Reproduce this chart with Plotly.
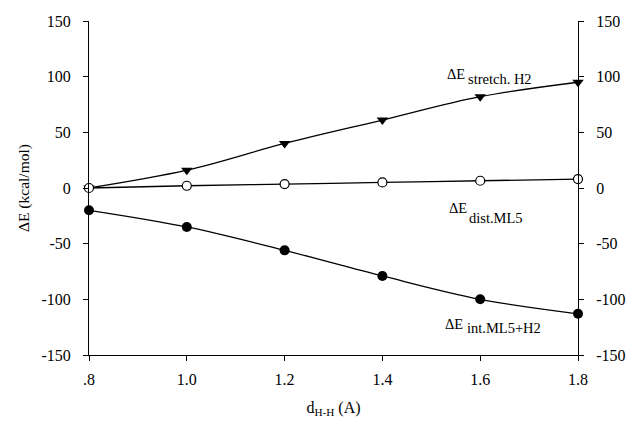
import plotly.graph_objects as go

d_hh = [0.8, 1.0, 1.2, 1.4, 1.6, 1.8]
e_stretch_h2 = [0, 16, 40, 61, 82, 95]
e_dist_ml5 = [0, 2, 3.5, 5, 6.5, 8]
e_int_ml5_h2 = [-20, -35, -56, -79, -100, -113]

x_tickvals = [0.8, 1.0, 1.2, 1.4, 1.6, 1.8]
x_ticktext = [".8", "1.0", "1.2", "1.4", "1.6", "1.8"]
y_tickvals = [-150, -100, -50, 0, 50, 100, 150]
y_ticktext = ["-150", "-100", "-50", "0", "50", "100", "150"]

FONT = "Liberation Serif"

fig = go.Figure()
fig.add_trace(go.Scatter(
    x=d_hh, y=e_stretch_h2, mode="lines+markers",
    line=dict(color="black", width=1.3, shape="spline"),
    marker=dict(symbol="triangle-down", size=10, color="black"),
    cliponaxis=False, showlegend=False))
fig.add_trace(go.Scatter(
    x=d_hh, y=e_dist_ml5, mode="lines+markers",
    line=dict(color="black", width=1.3, shape="spline"),
    marker=dict(symbol="circle", size=9, color="white", line=dict(color="black", width=1.2)),
    cliponaxis=False, showlegend=False))
fig.add_trace(go.Scatter(
    x=d_hh, y=e_int_ml5_h2, mode="lines+markers",
    line=dict(color="black", width=1.3, shape="spline"),
    marker=dict(symbol="circle", size=10, color="black"),
    cliponaxis=False, showlegend=False))
# invisible trace to carry the right-hand axis
fig.add_trace(go.Scatter(x=[d_hh[0]], y=[0], yaxis="y2", mode="markers",
                         marker=dict(opacity=0), showlegend=False, hoverinfo="skip"))

axis_common = dict(
    showgrid=False, zeroline=False, showline=True, linecolor="black", linewidth=1,
    ticks="outside", ticklen=5, tickwidth=1, tickcolor="black", automargin=False,
    tickfont=dict(family=FONT, size=16, color="black"),
)

fig.update_layout(
    width=629, height=426,
    margin=dict(l=89, r=51, t=21, b=71),
    paper_bgcolor="white", plot_bgcolor="white",
    font=dict(family=FONT, color="black"),
    xaxis=dict(range=[0.8, 1.8], tickvals=x_tickvals, ticktext=x_ticktext,
               ticklabelstandoff=5,
               title=dict(text="d<sub>H-H</sub> (A)", font=dict(family=FONT, size=16), standoff=14),
               **axis_common),
    yaxis=dict(range=[-150, 150], tickvals=y_tickvals, ticktext=y_ticktext, ticklabelstandoff=9,
               title=dict(text="ΔE (kcal/mol)", font=dict(family=FONT, size=15.5), standoff=8),
               **axis_common),
    yaxis2=dict(range=[-150, 150], tickvals=y_tickvals, ticktext=y_ticktext, overlaying="y",
                side="right", anchor="x", ticklabelstandoff=9, **axis_common),
)

ann_font = dict(family=FONT, size=14.5, color="black")
labels = [
    # (x of ΔE, y of ΔE, x of subscript, y of subscript, subscript text)
    (1.528, 102, 1.571, 97.5, "stretch. H2"),
    (1.532, -18, 1.573, -26.5, "dist.ML5"),
    (1.524, -122, 1.569, -126, "int.ML5+H2"),
]
for xa, ya, xs, ys, sub in labels:
    fig.add_annotation(x=xa, y=ya, xref="x", yref="y", text="ΔE", showarrow=False,
                       font=ann_font, xanchor="left", yanchor="middle")
    fig.add_annotation(x=xs, y=ys, xref="x", yref="y", text=sub, showarrow=False,
                       font=ann_font, xanchor="left", yanchor="middle")

fig.write_html("out.html")
